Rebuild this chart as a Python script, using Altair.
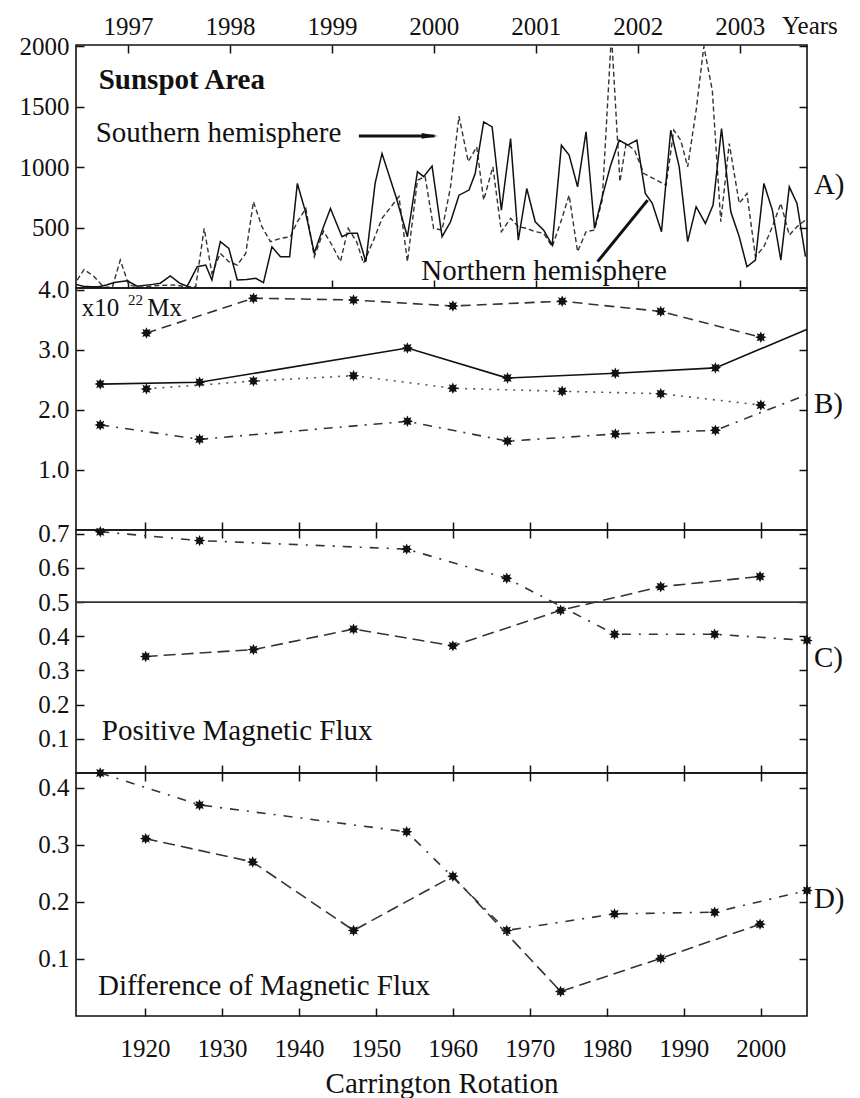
import altair as alt
import pandas as pd

FONT = "Liberation Serif"
INK = "#111111"
X_DOM = [1911.05, 2006.0]
YEAR_DOM = [1996.49, 2003.66]
W = 731
H_A, H_B, H_C, H_D = 243, 242, 243, 243
A_DOM = [0, 2010]
B_DOM = [0, 4.03]
C_DOM = [0, 0.711]
D_DOM = [0, 0.426]

# ---------------- data ----------------
years = [1997, 1998, 1999, 2000, 2001, 2002, 2003]
cr_ticks = [1920, 1930, 1940, 1950, 1960, 1970, 1980, 1990, 2000]

# Panel A: sunspot area, northern (solid) and southern (dashed) hemisphere
north_cr = [1911.0, 1912.0, 1913.0, 1914.0, 1915.0, 1916.0, 1917.7, 1919.0, 1921.0, 1922.0,
            1923.3, 1924.5, 1925.5, 1926.8, 1927.9, 1928.7, 1929.8, 1930.9, 1932.0, 1933.2,
            1934.4, 1935.4, 1936.5, 1937.6, 1938.8, 1939.8, 1940.8, 1942.0, 1943.2, 1944.1,
            1945.6, 1946.5, 1947.6, 1948.7, 1949.9, 1950.8, 1952.6, 1954.1, 1955.4, 1956.2,
            1957.3, 1958.6, 1959.7, 1960.8, 1962.1, 1962.9, 1964.0, 1965.1, 1966.3, 1967.5,
            1968.5, 1969.6, 1970.7, 1971.8, 1972.9, 1974.1, 1975.1, 1976.2, 1977.3, 1978.4,
            1979.4, 1980.5, 1981.6, 1982.7, 1983.9, 1985.0, 1985.9, 1987.1, 1988.3, 1989.4,
            1990.5, 1991.6, 1992.8, 1993.8, 1994.9, 1996.1, 1997.2, 1998.2, 1999.3, 2000.4,
            2001.5, 2002.6, 2003.7, 2004.7, 2005.8]
north_area = [30, 15, 10, 10, 25, 45, 60, 15, 30, 40,
              100, 40, 15, 176, 190, 66, 383, 328, 66, 70,
              80, 44, 341, 259, 259, 865, 644, 290, 507, 658,
              424, 452, 452, 217, 865, 1113, 757, 424, 963, 921,
              1008, 424, 548, 768, 810, 947, 1374, 1333, 644, 1236,
              396, 823, 548, 479, 355, 1181, 1099, 837, 1292, 493,
              754, 1016, 1223, 1181, 1223, 782, 700, 466, 1305, 1002,
              383, 672, 534, 686, 1319, 631, 424, 176, 231, 865,
              644, 231, 837, 700, 259]

south_cr = [1911.2, 1912.1, 1913.4, 1914.7, 1915.8, 1916.8, 1917.9, 1919.4, 1921.6, 1923.8,
            1925.5, 1926.6, 1927.7, 1928.7, 1929.8, 1930.9, 1932.0, 1933.1, 1934.1, 1935.2,
            1936.3, 1937.6, 1938.9, 1939.8, 1940.9, 1942.0, 1943.2, 1944.3, 1945.4, 1946.4,
            1947.5, 1948.4, 1949.7, 1950.8, 1953.0, 1954.1, 1955.4, 1956.4, 1957.5, 1958.6,
            1959.7, 1960.8, 1962.0, 1963.1, 1964.0, 1965.2, 1966.3, 1967.5, 1968.5, 1969.6,
            1970.7, 1971.8, 1972.9, 1974.1, 1975.1, 1976.2, 1977.3, 1978.4, 1979.4, 1980.6,
            1981.7, 1982.5, 1983.6, 1984.8, 1987.7, 1988.7, 1989.6, 1990.5, 1991.6, 1992.6,
            1993.7, 1994.8, 1995.9, 1997.2, 1998.2, 1999.3, 2000.4, 2001.5, 2002.6, 2003.7,
            2004.7, 2005.8]
south_area = [66, 154, 94, 5, 12, 231, 25, 5, 20, 25,
              10, 10, 493, 121, 286, 218, 190, 286, 714, 507,
              383, 410, 424, 548, 658, 259, 470, 355, 218, 493,
              383, 204, 396, 576, 757, 218, 892, 921, 493, 479,
              837, 1421, 1045, 1167, 727, 1002, 466, 576, 507, 493,
              466, 452, 341, 562, 768, 300, 466, 479, 727, 2100,
              879, 1195, 1140, 947, 851, 1305, 1223, 1002, 1470, 2000,
              1636, 548, 1195, 700, 782, 259, 341, 507, 700, 438,
              507, 562]

# Panel B: magnetic flux (x10^22 Mx), four series
b_cr_a = [1920.2, 1934.1, 1947.1, 1960.0, 1974.2, 1987.0, 2000.0]
b_dashed = [3.28, 3.86, 3.83, 3.73, 3.81, 3.64, 3.21]
b_dotted = [2.35, 2.48, 2.57, 2.36, 2.31, 2.27, 2.08]
b_cr_b = [1914.2, 1927.1, 1954.1, 1967.1, 1981.1, 1994.1, 2007.1]
b_solid = [2.43, 2.46, 3.03, 2.53, 2.61, 2.70, 3.40]
b_dashdot = [1.75, 1.51, 1.81, 1.48, 1.60, 1.66, 2.31]

# Panel C: positive magnetic flux fraction
c_cr_dd = [1914.2, 1927.1, 1954.0, 1967.0, 1981.0, 1994.0, 2006.0]
c_dashdot = [0.706, 0.680, 0.655, 0.570, 0.406, 0.406, 0.388]
c_cr_da = [1920.1, 1934.1, 1947.1, 1960.0, 1974.0, 1987.0, 1999.9]
c_dashed = [0.341, 0.361, 0.421, 0.372, 0.476, 0.545, 0.575]
c_ref = [0.5]

# Panel D: difference of magnetic flux
d_cr_dd = [1914.2, 1927.1, 1954.0, 1967.0, 1981.0, 1994.0, 2006.0]
d_dashdot = [0.426, 0.370, 0.323, 0.150, 0.179, 0.182, 0.220]
d_cr_da = [1920.1, 1934.0, 1947.1, 1960.0, 1974.0, 1987.0, 1999.9]
d_dashed = [0.311, 0.270, 0.150, 0.245, 0.043, 0.101, 0.161]

STAR = ("M0,-1L0.22,-0.52L0.71,-0.71L0.52,-0.22L1,0L0.52,0.22L0.71,0.71L0.22,0.52"
        "L0,1L-0.22,0.52L-0.71,0.71L-0.52,0.22L-1,0L-0.52,-0.22L-0.71,-0.71L-0.22,-0.52Z")
ARROWHEAD = "M-1,-0.35L1,0L-1,0.35Z"


# ---------------- helpers ----------------
def X(field, dom=X_DOM, axis=None):
    return alt.X(f"{field}:Q", scale=alt.Scale(domain=dom, nice=False, zero=False),
                 axis=axis, title="")


def Y(field, dom, axis=None):
    return alt.Y(f"{field}:Q", scale=alt.Scale(domain=dom, nice=False, zero=False),
                 axis=axis, title="")


def ylab_axis(values, fmt):
    return alt.Axis(orient="left", values=values, format=fmt, ticks=False, domain=False,
                    grid=False, labelFont=FONT, labelFontSize=25, labelColor=INK,
                    labelPadding=7)


def tick_axis(values, orient, offset):
    return alt.Axis(orient=orient, offset=offset, values=values, labels=False, ticks=True,
                    tickSize=8, tickWidth=1.5, tickColor=INK, domain=False, grid=False)


def frame(xdom, ydom):
    return pd.DataFrame({"x": xdom, "y": ydom})


def axis_layers(ydom, yvals, yfmt, h, xdom, xvals, top_in, bottom_in, x_label_axis=None):
    layers = []
    df = frame(xdom, ydom)
    layers.append(alt.Chart(df).mark_point(opacity=0).encode(
        x=X("x", xdom, x_label_axis), y=Y("y", ydom, ylab_axis(yvals, yfmt))))
    layers.append(alt.Chart(df).mark_point(opacity=0).encode(
        x=X("x", xdom, tick_axis(xvals, "bottom", -h) if top_in else None),
        y=Y("y", ydom, tick_axis(yvals, "right", -W))))
    layers.append(alt.Chart(df).mark_point(opacity=0).encode(
        x=X("x", xdom, tick_axis(xvals, "top", -h) if bottom_in else None),
        y=Y("y", ydom, tick_axis(yvals, "left", -W))))
    return layers


def series(cr, vals, dom, dash=None, color=INK, width=1.6, markers=True, clip_pts=False):
    df = pd.DataFrame({"cr": cr, "v": vals})
    kw = dict(color=color, strokeWidth=width, clip=True)
    if dash:
        kw["strokeDash"] = dash
    out = [alt.Chart(df).mark_line(**kw).encode(x=X("cr"), y=Y("v", dom))]
    if markers:
        out.append(alt.Chart(df).mark_point(shape=STAR, filled=True, color=INK, size=130,
                                            opacity=1, clip=clip_pts)
                   .encode(x=X("cr"), y=Y("v", dom)))
    return out


def label(text, x, y, dom, size=29, weight="normal", align="left", baseline="alphabetic"):
    df = pd.DataFrame({"x": [x], "y": [y], "t": [text]})
    return alt.Chart(df).mark_text(font=FONT, fontSize=size, fontWeight=weight, color=INK,
                                   align=align, baseline=baseline).encode(
        x=X("x"), y=Y("y", dom), text="t:N")


def layered(layers, h):
    return alt.layer(*layers).resolve_scale(x="independent", y="independent").properties(
        width=W, height=h)


# ---------------- panel A ----------------
year_label_axis = alt.Axis(orient="top", values=years, format="d", ticks=False, domain=False,
                           grid=False, labelFont=FONT, labelFontSize=25, labelColor=INK,
                           labelPadding=6)
A_layers = axis_layers(A_DOM, [500, 1000, 1500, 2000], "d", H_A, YEAR_DOM, years,
                       True, True, year_label_axis)
A_layers += series(south_cr, south_area, A_DOM, dash=[5, 3], color="#333333", width=1.4,
                   markers=False)
A_layers += series(north_cr, north_area, A_DOM, color=INK, width=1.5, markers=False)
arrow_s = pd.DataFrame({"x": [1947.8], "x2": [1957.6], "y": [1258]})
A_layers.append(alt.Chart(arrow_s).mark_rule(color=INK, strokeWidth=3).encode(
    x=X("x"), x2="x2:Q", y=Y("y", A_DOM)))
A_layers.append(alt.Chart(pd.DataFrame({"x": [1957.0], "y": [1258]})).mark_point(
    shape=ARROWHEAD, filled=True, color=INK, size=260, opacity=1).encode(
    x=X("x"), y=Y("y", A_DOM)))
arrow_n = pd.DataFrame({"x": [1978.8], "x2": [1985.3], "y": [218], "y2": [727]})
A_layers.append(alt.Chart(arrow_n).mark_rule(color=INK, strokeWidth=3).encode(
    x=X("x"), x2="x2:Q", y=Y("y", A_DOM), y2="y2:Q"))
A_layers.append(label("Sunspot Area", 1914.0, 1650, A_DOM, size=29, weight="bold"))
A_layers.append(label("Southern hemisphere", 1913.6, 1206, A_DOM))
A_layers.append(label("Northern hemisphere", 1955.9, 66, A_DOM))
A_layers.append(label("A)", 2006.9, 850, A_DOM, baseline="middle"))
A_layers.append(label("Years", 2002.75, 2101, A_DOM, size=25))
panelA = layered(A_layers, H_A)

# ---------------- panel B ----------------
B_layers = axis_layers(B_DOM, [1.0, 2.0, 3.0, 4.0], ".1f", H_B, X_DOM, cr_ticks,
                       False, True)
B_layers += series(b_cr_a, b_dashed, B_DOM, dash=[10, 6], color="#333333")
B_layers += series(b_cr_a, b_dotted, B_DOM, dash=[2, 6], color="#555555")
B_layers += series(b_cr_b, b_solid, B_DOM, color=INK, clip_pts=True)
B_layers += series(b_cr_b, b_dashdot, B_DOM, dash=[9, 7, 2, 7], color="#333333", clip_pts=True)
B_layers.append(label("x10", 1911.8, 3.56, B_DOM, size=25))
B_layers.append(label("22", 1917.8, 3.75, B_DOM, size=15))
B_layers.append(label("Mx", 1920.3, 3.56, B_DOM, size=25))
B_layers.append(label("B)", 2006.9, 2.1, B_DOM, baseline="middle"))
panelB = layered(B_layers, H_B)

# ---------------- panel C ----------------
C_layers = axis_layers(C_DOM, [0.1, 0.2, 0.3, 0.4, 0.5, 0.6, 0.7], ".1f", H_C, X_DOM,
                       cr_ticks, True, True)
C_layers.append(alt.Chart(pd.DataFrame({"v": c_ref})).mark_rule(
    color="#333333", strokeWidth=1.6).encode(y=Y("v", C_DOM)))
C_layers += series(c_cr_dd, c_dashdot, C_DOM, dash=[9, 8, 2, 8], color="#333333")
C_layers += series(c_cr_da, c_dashed, C_DOM, dash=[12, 6], color="#333333")
C_layers.append(label("Positive Magnetic Flux", 1914.4, 0.097, C_DOM))
C_layers.append(label("C)", 2006.9, 0.337, C_DOM, baseline="middle"))
panelC = layered(C_layers, H_C)

# ---------------- panel D ----------------
x_label_axis = alt.Axis(orient="bottom", values=cr_ticks, format="d", ticks=False,
                        domain=False, grid=False, labelFont=FONT, labelFontSize=25,
                        labelColor=INK, labelPadding=20, title="Carrington Rotation",
                        titleFont=FONT, titleFontSize=29, titleFontWeight="normal",
                        titleColor=INK, titlePadding=8)
D_layers = axis_layers(D_DOM, [0.1, 0.2, 0.3, 0.4], ".1f", H_D, X_DOM, cr_ticks,
                       True, True, x_label_axis)
D_layers[0] = alt.Chart(frame(X_DOM, D_DOM)).mark_point(opacity=0).encode(
    x=alt.X("x:Q", scale=alt.Scale(domain=X_DOM, nice=False, zero=False), axis=x_label_axis),
    y=Y("y", D_DOM, ylab_axis([0.1, 0.2, 0.3, 0.4], ".1f")))
D_layers += series(d_cr_dd, d_dashdot, D_DOM, dash=[9, 8, 2, 8], color="#333333")
D_layers += series(d_cr_da, d_dashed, D_DOM, dash=[12, 6], color="#333333")
D_layers.append(label("Difference of  Magnetic Flux", 1913.9, 0.037, D_DOM))
D_layers.append(label("D)", 2006.9, 0.205, D_DOM, baseline="middle"))
panelD = layered(D_layers, H_D)

chart = alt.vconcat(panelA, panelB, panelC, panelD, spacing=0, bounds="flush").properties(
    padding={"left": 18, "top": 13, "right": 4, "bottom": 4}
).configure_view(stroke=INK, strokeWidth=1.6)

chart.save("out.html", embed_options={"renderer": "svg", "actions": False})
